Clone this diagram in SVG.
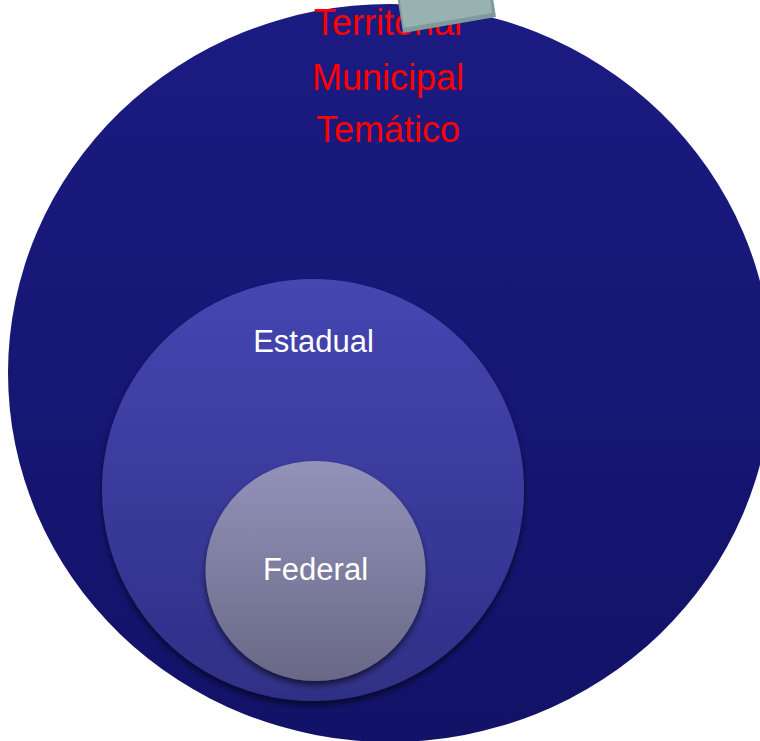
<svg xmlns="http://www.w3.org/2000/svg" width="760" height="741" viewBox="0 0 760 741">
<style>
.lbl{font-family:"Liberation Sans",Arial,sans-serif;text-anchor:middle}
.red{fill:#ff0000;font-size:36px}
.wht{fill:#ffffff;font-size:31px}
</style>
<defs>
<linearGradient id="gOuter" x1="0" y1="0" x2="0" y2="1">
<stop offset="0" stop-color="#1b1b82"/>
<stop offset="1" stop-color="#121268"/>
</linearGradient>
<linearGradient id="gEst" x1="0" y1="0" x2="0" y2="1">
<stop offset="0" stop-color="#4646b2"/>
<stop offset="1" stop-color="#2f2f86"/>
</linearGradient>
<linearGradient id="gFed" x1="0" y1="0" x2="0" y2="1">
<stop offset="0" stop-color="#9393ba"/>
<stop offset="1" stop-color="#686886"/>
</linearGradient>
<filter id="sh" x="-10%" y="-10%" width="120%" height="125%">
<feGaussianBlur in="SourceAlpha" stdDeviation="3"/>
<feOffset dx="0" dy="4" result="b"/>
<feComponentTransfer><feFuncA type="linear" slope="0.6"/></feComponentTransfer>
<feMerge><feMergeNode/><feMergeNode in="SourceGraphic"/></feMerge>
</filter>
</defs>
<g id="outer">
<ellipse cx="390" cy="373" rx="382" ry="369" fill="url(#gOuter)"/>
<text class="lbl red" x="388" y="35">Territorial</text>
<text class="lbl red" x="388" y="90">Municipal</text>
<text class="lbl red" x="388" y="142">Temático</text>
</g>
<g id="tab">
<polygon points="397,-5 490,-20 496,17 403,33" fill="#7f9a9a"/>
<polygon points="399,-5 488,-18 492,13 404,28" fill="#9ab1b1"/>
</g>
<g id="estadual">
<circle cx="313" cy="490" r="211" fill="url(#gEst)" filter="url(#sh)"/>
<text class="lbl wht" x="313.5" y="352">Estadual</text>
</g>
<g id="federal">
<circle cx="315.5" cy="571" r="110" fill="url(#gFed)" filter="url(#sh)"/>
<text class="lbl wht" x="315.5" y="580">Federal</text>
</g>
<g id="connectors"/>
</svg>
